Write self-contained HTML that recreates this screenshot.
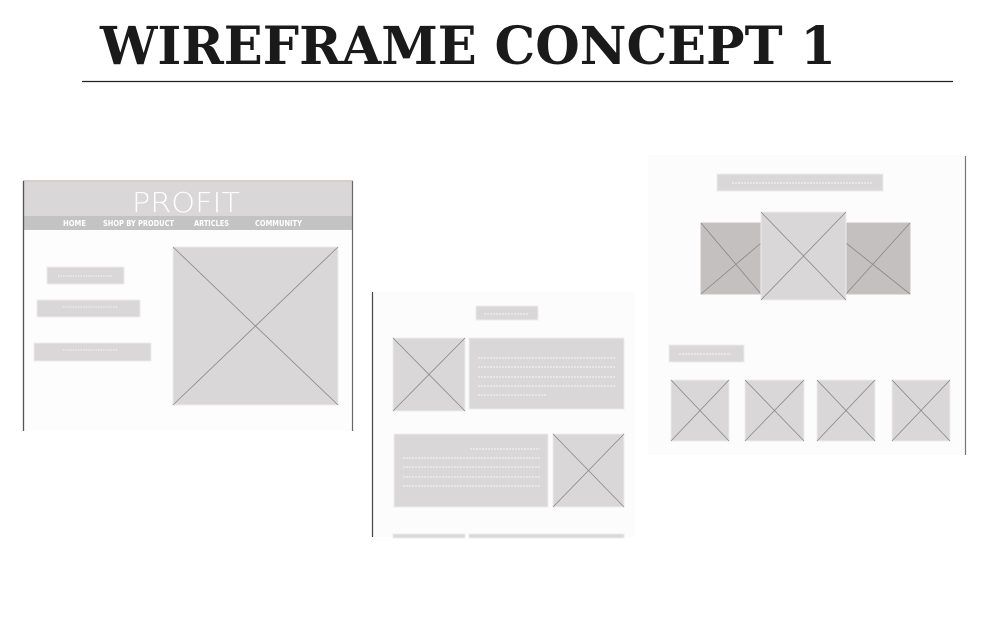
<!DOCTYPE html>
<html><head><meta charset="utf-8"><style>
html,body{margin:0;padding:0;background:#fff;width:992px;height:621px;overflow:hidden}
svg{display:block}
</style></head><body>
<svg width="992" height="621" viewBox="0 0 992 621" xmlns="http://www.w3.org/2000/svg">
<rect width="992" height="621" fill="#fff"/>
<text x="100" y="64" font-family="'DejaVu Serif','Liberation Serif',serif" font-weight="bold" font-size="52" fill="#1a1a1a" textLength="736" lengthAdjust="spacingAndGlyphs">WIREFRAME CONCEPT 1</text>
<line x1="82" y1="81.5" x2="953" y2="81.5" stroke="#222" stroke-width="1.2"/>

<!-- Panel 1 -->
<rect x="23" y="181" width="330" height="250" fill="#fdfdfd"/>
<rect x="23" y="180" width="330" height="2" fill="#d8cccc"/>
<rect x="24" y="182" width="328" height="34" fill="#d9d7d8"/>
<rect x="24" y="216" width="328" height="14" fill="#c4c3c4"/>
<line x1="23.5" y1="181" x2="23.5" y2="431" stroke="#555" stroke-width="1.3"/>
<line x1="352.5" y1="181" x2="352.5" y2="431" stroke="#666" stroke-width="1.2"/>
<text x="186" y="212" text-anchor="middle" font-family="'DejaVu Sans','Liberation Sans',sans-serif" font-weight="300" font-size="28" fill="#fff" textLength="108" lengthAdjust="spacingAndGlyphs">PROFIT</text>
<g font-family="'DejaVu Sans Condensed','Liberation Sans',sans-serif" font-size="7.5" font-weight="bold" fill="#fff">
<text x="63" y="226" textLength="23" lengthAdjust="spacingAndGlyphs">HOME</text>
<text x="103" y="226" textLength="71" lengthAdjust="spacingAndGlyphs">SHOP BY PRODUCT</text>
<text x="194" y="226" textLength="35" lengthAdjust="spacingAndGlyphs">ARTICLES</text>
<text x="255" y="226" textLength="47" lengthAdjust="spacingAndGlyphs">COMMUNITY</text>
</g>
<g fill="#d9d7d8" stroke="#ececec" stroke-width="1">
<rect x="47" y="267" width="77" height="17"/>
<rect x="37" y="300" width="103" height="17"/>
<rect x="34" y="343" width="117" height="18"/>
<rect x="173" y="247" width="165" height="158"/>
</g>
<g stroke="#fff" stroke-width="0.8" stroke-dasharray="1.5 1">
<line x1="58" y1="276" x2="112" y2="276"/>
<line x1="63" y1="307" x2="117" y2="307"/>
<line x1="63" y1="350" x2="117" y2="350"/>
</g>
<g stroke="#888" stroke-width="0.8">
<line x1="173" y1="247" x2="338" y2="405"/><line x1="338" y1="247" x2="173" y2="405"/>
</g>

<!-- Panel 2 -->
<rect x="373" y="292" width="262" height="245" fill="#fcfcfc"/>
<line x1="372.5" y1="292" x2="372.5" y2="537" stroke="#444" stroke-width="1.2"/>
<g fill="#d9d7d8" stroke="#ececec" stroke-width="1">
<rect x="476" y="306" width="62" height="14"/>
<rect x="393" y="338" width="72" height="73"/>
<rect x="469" y="338" width="155" height="71"/>
<rect x="394" y="434" width="154" height="73"/>
<rect x="553" y="434" width="71" height="73"/>
<rect x="393" y="534" width="72" height="4"/>
<rect x="469" y="534" width="155" height="4"/>
</g>
<g stroke="#fff" stroke-width="0.8" stroke-dasharray="2 1">
<line x1="484" y1="314" x2="528" y2="314"/>
<line x1="478" y1="358" x2="615" y2="358"/>
<line x1="478" y1="367" x2="615" y2="367"/>
<line x1="478" y1="377" x2="615" y2="377"/>
<line x1="478" y1="386" x2="615" y2="386"/>
<line x1="478" y1="395" x2="547" y2="395"/>
<line x1="470" y1="449" x2="540" y2="449"/>
<line x1="403" y1="458" x2="540" y2="458"/>
<line x1="403" y1="467" x2="540" y2="467"/>
<line x1="403" y1="477" x2="540" y2="477"/>
<line x1="403" y1="486" x2="540" y2="486"/>
</g>
<g stroke="#888" stroke-width="0.8">
<line x1="393" y1="338" x2="465" y2="411"/><line x1="465" y1="338" x2="393" y2="411"/>
<line x1="553" y1="434" x2="624" y2="507"/><line x1="624" y1="434" x2="553" y2="507"/>
</g>

<!-- Panel 3 -->
<rect x="648" y="155" width="317" height="300" fill="#fcfcfc"/>
<line x1="965.5" y1="156" x2="965.5" y2="455" stroke="#777" stroke-width="1.2"/>
<g fill="#d9d7d8" stroke="#ececec" stroke-width="1">
<rect x="717" y="174" width="166" height="17"/>
<rect x="669" y="345" width="75" height="17"/>
</g>
<g stroke="#fff" stroke-width="0.8" stroke-dasharray="2 1">
<line x1="732" y1="183" x2="872" y2="183"/>
<line x1="679" y1="354" x2="731" y2="354"/>
</g>
<g fill="#c4c0bf" stroke="#c8c4c3">
<rect x="701" y="223" width="60" height="71"/>
<rect x="846" y="223" width="64" height="71"/>
</g>
<g stroke="#888" stroke-width="0.8">
<line x1="701" y1="223" x2="761" y2="294"/><line x1="761" y1="243" x2="701" y2="294"/>
<line x1="846" y1="243" x2="910" y2="294"/><line x1="910" y1="223" x2="846" y2="294"/>
</g>
<rect x="761" y="212" width="85" height="88" fill="#d9d7d8" stroke="#ececec"/>
<g fill="#d9d7d8" stroke="#ececec" stroke-width="1">
<rect x="671" y="380" width="58" height="61"/>
<rect x="745" y="380" width="59" height="61"/>
<rect x="817" y="380" width="58" height="61"/>
<rect x="892" y="380" width="58" height="61"/>
</g>
<g stroke="#888" stroke-width="0.8">
<line x1="761" y1="212" x2="846" y2="300"/><line x1="846" y1="212" x2="761" y2="300"/>
<line x1="671" y1="380" x2="729" y2="441"/><line x1="729" y1="380" x2="671" y2="441"/>
<line x1="745" y1="380" x2="804" y2="441"/><line x1="804" y1="380" x2="745" y2="441"/>
<line x1="817" y1="380" x2="875" y2="441"/><line x1="875" y1="380" x2="817" y2="441"/>
<line x1="892" y1="380" x2="950" y2="441"/><line x1="950" y1="380" x2="892" y2="441"/>
</g>
</svg>
</body></html>
